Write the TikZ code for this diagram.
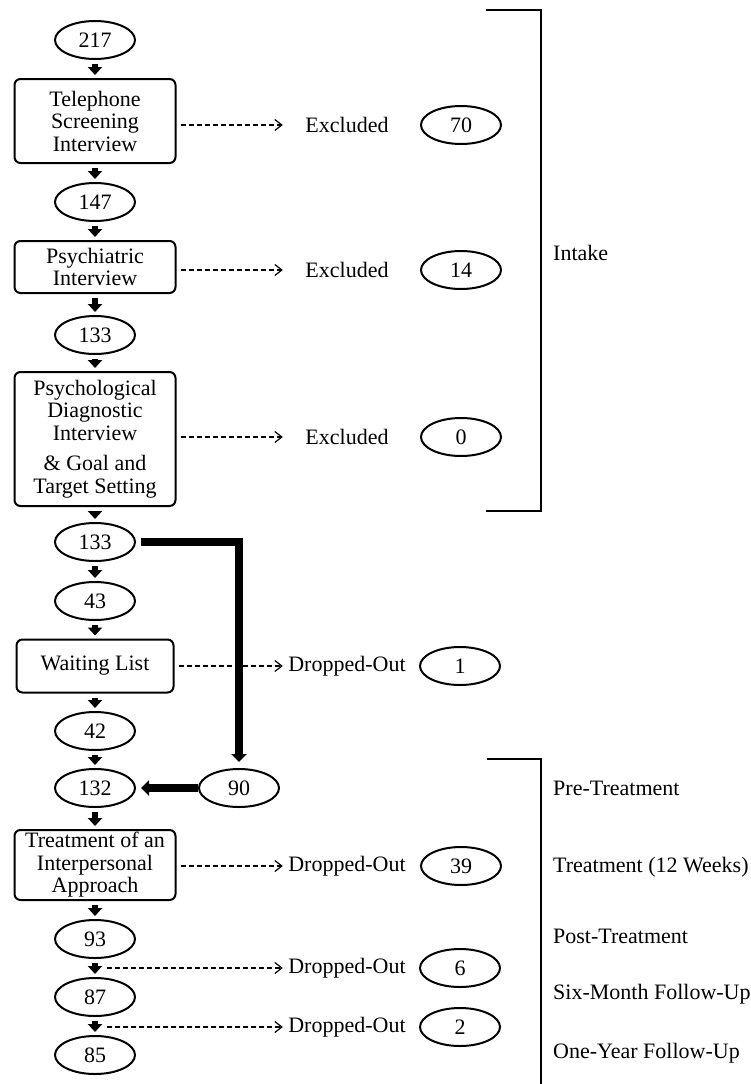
\documentclass[tikz,border=0pt]{standalone}
\usepackage{fontspec}
\setmainfont{Liberation Serif}
\usetikzlibrary{shapes.geometric,arrows.meta}

\begin{document}
\begin{tikzpicture}[x=1pt,y=-1pt, every node/.style={font=\fontsize{22}{22.5}\selectfont},
    count/.style={draw, ellipse, line width=2pt, minimum width=80pt, minimum height=38pt, inner sep=0pt},
    stage/.style={draw, rectangle, rounded corners=6pt, line width=2pt, align=center, minimum width=161pt, inner sep=1pt},
    outlbl/.style={minimum width=128pt, inner sep=0pt},
    side/.style={anchor=west, inner sep=0pt},
    flow/.style={line width=6pt, -{Triangle[width=14pt,length=8pt]}, shorten <=4pt, shorten >=3pt},
    drop/.style={line width=1.2pt, dash pattern=on 5pt off 3pt, -{Straight Barb[length=7pt,width=11pt]}, shorten <=4pt},
    bigflow/.style={line width=8pt, -{Triangle[width=15pt,length=8pt]}}]
    \useasboundingbox (0,0) rectangle (751,1084);

    \node[count] (n217) at (95,40) {217};
    \node[stage, minimum height=84pt] (tel) at (95,121) {Telephone\\Screening\\Interview};
    \node[count] (n147) at (95,202) {147};
    \node[stage, minimum height=52pt] (psy) at (95,267) {Psychiatric\\Interview};
    \node[count] (n133a) at (95,335) {133};
    \node[stage, minimum height=134pt] (diag) at (95,439) {Psychological\\Diagnostic\\Interview\\[8pt]\& Goal and\\Target Setting};
    \node[count] (n133b) at (95,542) {133};
    \node[count] (n43) at (95,601) {43};
    \node[stage, minimum width=157pt, minimum height=53pt] (wait) at (95,666) {Waiting List};
    \node[count] (n42) at (95,731) {42};
    \node[count] (n132) at (95,788) {132};
    \node[count] (n90) at (239,788) {90};
    \node[stage, minimum height=70pt] (treat) at (95,865) {Treatment of an\\Interpersonal\\Approach};
    \node[count] (n93) at (95,939) {93};
    \node[count] (n87) at (95,997) {87};
    \node[count] (n85) at (95,1055) {85};

    \node[outlbl] (ex1) at (347,125) {Excluded};
    \node[count] (n70) at (461,125) {70};
    \node[outlbl] (ex2) at (347,270) {Excluded};
    \node[count] (n14) at (461,270) {14};
    \node[outlbl] (ex3) at (347,437) {Excluded};
    \node[count] (n0) at (461,437) {0};
    \node[outlbl] (do1) at (347,666) {Dropped-Out};
    \node[count] (n1) at (460,666) {1};
    \node[outlbl] (do2) at (347,866) {Dropped-Out};
    \node[count] (n39) at (461,866) {39};
    \node[outlbl] (do3) at (347,968) {Dropped-Out};
    \node[count] (n6) at (460,968) {6};
    \node[outlbl] (do4) at (347,1027) {Dropped-Out};
    \node[count] (n2) at (460,1027) {2};
    \coordinate (s6) at (103,968);
    \coordinate (s2) at (103,1027);

    \foreach \a/\b in {n217/tel, tel/n147, n147/psy, psy/n133a, n133a/diag, diag/n133b, n133b/n43,
        n43/wait, wait/n42, n42/n132, n132/treat, treat/n93, n93/n87, n87/n85}
        \draw[flow] (\a) -- (\b);

    \draw[drop] (tel.east |- ex1.west) -- (ex1.west);
    \draw[drop] (psy.east |- ex2.west) -- (ex2.west);
    \draw[drop] (diag.east |- ex3.west) -- (ex3.west);
    \draw[drop] (wait.east |- do1.west) -- (do1.west);
    \draw[drop] (treat.east |- do2.west) -- (do2.west);
    \draw[drop] (s6) -- (do3.west);
    \draw[drop] (s2) -- (do4.west);

    \draw[bigflow, shorten <=5pt, shorten >=6pt] (n133b.east) -| (n90.north);
    \draw[bigflow, shorten >=5pt] (n90.west) -- (n132.east);

    \draw[line width=2.5pt] (486,10) -- (541,10) -- (541,511) -- (486,511);
    \draw[line width=2.5pt] (487,759) -- (541,759) -- (541,1084);

    \node[side] (intake) at (553,253) {Intake};
    \node[side] (pre) at (553,788) {Pre-Treatment};
    \node[side] (trt) at (553,867) {Treatment (12 Weeks)};
    \node[side] (post) at (553,936) {Post-Treatment};
    \node[side] (six) at (553,994) {Six-Month Follow-Up};
    \node[side] (year) at (553,1053) {One-Year Follow-Up};
\end{tikzpicture}
\end{document}
